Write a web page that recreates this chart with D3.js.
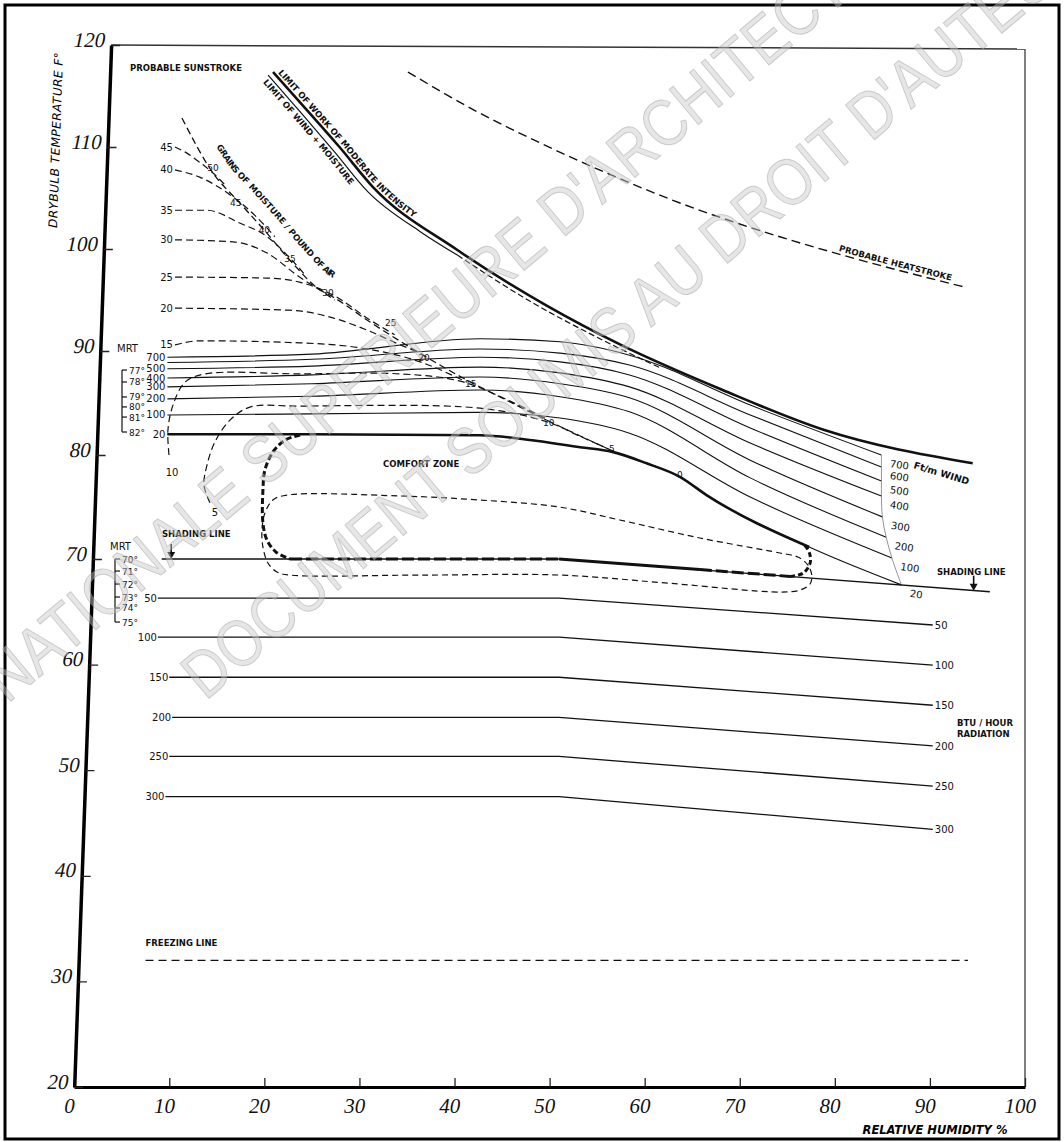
<!DOCTYPE html>
<html>
<head>
<meta charset="utf-8">
<script src="https://cdn.jsdelivr.net/npm/d3@7"></script>
<style>
body { margin: 0; background: #fff; }
svg { display: block; }
.lab { font-family: 'DejaVu Sans', sans-serif; font-weight: bold; font-size: 8.5px; fill: #111; }
.num { font-family: 'DejaVu Sans', sans-serif; font-size: 10px; fill: #111; }
.tick text { font-family: 'Liberation Serif', serif; font-style: italic; font-size: 21px; fill: #111; }
</style>
</head>
<body>
<div id="chart"></div>
<script>
const rhTicks = d3.range(0, 101, 10)
const tempTicks = d3.range(20, 121, 10)

// wind lines, ft/min : [relative humidity %, drybulb F]
const windSpeeds = [700, 600, 500, 400, 300, 200, 100, 20]
const windLeftLabels = ['700', '', '500', '400', '300', '200', '100', '20']
const wind700 = [[9.8, 89.4], [25, 89.7], [42.7, 91.2], [51.1, 90.9], [58.4, 89.6], [71.1, 84.8], [84.9, 80.0]]
const wind600 = [[9.8, 88.9], [25, 89.2], [42.7, 90.2], [51.1, 89.8], [58.4, 88.65], [71.1, 83.85], [84.9, 78.85]]
const wind500 = [[9.8, 88.3], [25, 88.55], [42.7, 89.4], [51.1, 88.95], [58.4, 87.7], [71.1, 82.6], [84.9, 77.5]]
const wind400 = [[9.8, 87.4], [25, 87.7], [42.7, 88.45], [51.1, 87.9], [58.4, 86.55], [71.1, 81.15], [84.9, 76.05]]
const wind300 = [[9.8, 86.55], [25, 86.85], [42.7, 87.5], [51.1, 86.85], [58.4, 85.5], [71.1, 79.5], [85.0, 74.05]]
const wind200 = [[9.8, 85.4], [25, 85.65], [42.7, 86.25], [51.1, 85.6], [58.4, 84.15], [71.1, 77.8], [85.4, 72.1]]
const wind100 = [[9.8, 83.85], [25, 83.95], [42.7, 84.1], [51.1, 83.55], [58.4, 82.1], [71.1, 75.95], [86.0, 70.1]]
const wind20 = [[9.8, 82.0], [25, 82.0], [42.7, 81.9], [47.9, 81.45], [53.2, 80.75], [56.6, 80.3], [60.2, 79.2], [63.7, 77.9], [66.5, 76.15], [77.3, 71.15], [87.0, 67.55]]
const windLines = [wind700, wind600, wind500, wind400, wind300, wind200, wind100, wind20]
const comfortTopEndRH = 77.3

// radiation lines, BTU/hour
const radiationLevels = [50, 100, 150, 200, 250, 300]
const radiationStartRH = [8.8, 8.8, 10.0, 10.3, 10.0, 9.6]
const radiationLeftT = [66.3, 62.6, 58.8, 55.0, 51.3, 47.5]
const radiationBendRH = 51
const radiationEndRH = 90.3
const radiationRightT = [63.75, 59.95, 56.15, 52.3, 48.5, 44.4]

const shadingLine = [[9.2, 70], [51, 70], [96.3, 66.9]]
const freezingLine = [[7.5, 32], [94, 32]]

const limitWork = [[20.9, 117.35], [24.5, 113.6], [27.9, 110.0], [31.4, 106.1], [40.3, 99.9], [49.6, 94.5], [57.5, 90.6], [68.2, 86.25], [78.9, 82.4], [94.5, 79.2]]
const limitWindMoisture = [[20.4, 117.05], [24.0, 113.2], [27.4, 109.5], [30.9, 105.6], [36.4, 101.7], [40.3, 99.4]]
const limitWindMoistureDashed = [[40.3, 99.4], [47.9, 94.9], [55.3, 91.2], [61.6, 88.4]]
const heatstrokeLine = [[35.1, 117.35], [42.1, 113.6], [49.0, 110.4], [56.0, 107.45], [62.9, 104.8], [74.2, 101.2], [80.8, 99.4], [93.5, 96.3]]

// grains of moisture / pound of air
const grainLevels = [45, 40, 35, 30, 25, 20, 15]
const grains45 = [[10.6, 110.0], [11.85, 109.4], [13.2, 108.5], [14.6, 107.45], [15.85, 106.3]]
const grains40 = [[10.6, 107.75], [13.2, 107.05], [16.7, 105.1], [19.0, 103.3], [21.1, 101.2]]
const grains35 = [[10.6, 103.8], [13.96, 103.8], [17.4, 102.55], [20.3, 101.2], [22.7, 99.1], [24.3, 97.45]]
const grains30 = [[10.6, 100.9], [16.7, 100.7], [20.3, 99.6], [23.7, 97.25], [25.8, 96.0], [27.4, 95.0]]
const grains25 = [[10.6, 97.25], [20.3, 97.15], [23.7, 96.75], [27.2, 95.5], [31.1, 93.05], [33.7, 91.6]]
const grains20 = [[10.6, 94.2], [22.7, 94.0], [27.2, 93.25], [30.8, 92.05], [34.3, 90.6], [36.15, 89.9]]
const grains15 = [[10.6, 90.6], [13.2, 91.0], [23.7, 90.8], [30.8, 90.2], [36.4, 88.95], [41.3, 87.0]]
const grainLines = [grains45, grains40, grains35, grains30, grains25, grains20, grains15]
const grains10 = [[9.97, 80.0], [9.86, 82.4], [10.39, 84.8], [11.65, 87.0], [13.75, 87.8], [23.7, 87.8], [34.3, 87.8], [40.6, 87.1], [45.8, 85.2], [49.8, 83.4]]
const grains5 = [[14.28, 75.4], [13.65, 77.1], [13.96, 79.0], [14.8, 81.25], [16.38, 83.35], [18.48, 84.6], [23.7, 84.7], [42.7, 84.5], [49.7, 83.2], [53.2, 81.8], [56.85, 80.3]]
const grainsDiagonal = [[11.33, 112.85], [14.6, 107.45], [17.43, 104.5], [20.27, 101.55], [22.69, 98.9], [25.84, 96.0], [27.21, 95.3], [31.1, 92.85], [36.15, 89.9], [41.3, 87.2], [45.83, 85.1], [49.7, 83.35], [53.17, 81.85], [56.85, 80.3]]
const diagonalLabels = [50, 45, 40, 35, 30, 25, 20, 15, 10, 5, 0]
const diagonalLabelRH = [14.6, 17.0, 20.0, 22.7, 26.7, 33.3, 36.8, 41.7, 49.9, 56.55, 63.7]
const diagonalLabelT = [108.0, 104.6, 101.9, 99.1, 95.7, 92.8, 89.33, 86.83, 83.08, 80.58, 78.08]

// comfort zone outlines
const comfortCornerLeft = [[23.76, 81.92], [22.18, 81.44], [20.9, 80.29], [20.06, 78.56], [19.85, 76.63], [19.85, 73.46], [20.27, 71.83], [21.22, 70.67], [22.69, 70.0]]
const comfortBottomDashed = [[22.69, 70], [51, 70]]
const comfortBottomSolid = [[51, 70], [65.8, 69.0]]
const comfortBottomDashedRight = [[65.8, 69.0], [75.3, 68.35]]
const comfortCornerRight = [[75.3, 68.35], [76.65, 68.65], [77.4, 69.6], [77.3, 70.67], [76.63, 71.54]]
const comfortOuter = [[34.26, 76.06], [22.37, 76.15], [20.9, 75.67], [20.06, 74.42], [19.75, 72.79], [19.85, 71.15], [20.38, 69.62], [21.33, 68.77], [22.69, 68.48], [36.8, 68.48], [50.98, 68.48], [62.6, 67.7], [74.22, 66.87], [76.32, 67.05], [77.37, 67.61], [77.58, 68.39], [77.16, 69.43], [76.11, 70.19], [74.22, 70.58], [65.8, 72.02], [57.39, 73.75], [50.98, 75.0], [42.67, 75.67]]

const mrtUpper = ['77°', '78°', '79°', '80°', '81°', '82°']
const mrtUpperT = [88.17, 87.02, 85.58, 84.62, 83.65, 82.21]
const mrtLower = ['70°', '71°', '72°', '73°', '74°', '75°']
const mrtLowerT = [70, 68.86, 67.63, 66.4, 65.36, 64.03]

const watermark = ["ECOLE NATIONALE SUPERIEURE D'ARCHITECTURE", "DOCUMENT SOUMIS AU DROIT D'AUTEUR"]

const width = 1064
const height = 1142

const svg = d3.select('#chart').append('svg')
	.attr('width', width)
	.attr('height', height)

const x = d3.scaleLinear().domain([0, 100]).range([74.2, 1025])
const y = d3.scaleLinear().domain([20, 70, 90, 120]).range([1087, 559, 351, 45])
const skew = -2.03
const axisTopX = x(0) + (y(20) - y(120)) * Math.tan(-skew * Math.PI / 180)

const smooth = d3.line().x(d => x(d[0])).y(d => y(d[1])).curve(d3.curveMonotoneX)
const straight = d3.line().x(d => x(d[0])).y(d => y(d[1]))
const free = d3.line().x(d => x(d[0])).y(d => y(d[1])).curve(d3.curveCatmullRom.alpha(0.5))

const draw = (data, gen, width, dash) => svg.append('path')
	.attr('d', gen(data))
	.attr('fill', 'none')
	.attr('stroke', '#111')
	.attr('stroke-width', width)
	.attr('stroke-dasharray', dash || null)

// outer frame
svg.append('rect')
	.attr('x', 5).attr('y', 5)
	.attr('width', width - 10).attr('height', height - 8)
	.attr('fill', 'none').attr('stroke', '#000').attr('stroke-width', 3)

// top and right border of the chart
svg.append('line')
	.attr('x1', axisTopX).attr('y1', y(120)).attr('x2', x(100)).attr('y2', y(120) + 4)
	.attr('stroke', '#333').attr('stroke-width', 1.5)
svg.append('line')
	.attr('x1', x(100)).attr('y1', y(120) + 4).attr('x2', x(100)).attr('y2', y(20))
	.attr('stroke', '#555').attr('stroke-width', 1.5)

// axes
const xAxis = d3.axisBottom(x).tickValues(rhTicks).tickSizeInner(-9).tickSizeOuter(0).tickPadding(11)
const gx = svg.append('g').attr('transform', `translate(0,${y(20)})`).call(xAxis)
gx.select('.domain').attr('stroke', '#000').attr('stroke-width', 3)
gx.selectAll('.tick line').attr('stroke', '#222').attr('stroke-width', 1.3)
gx.selectAll('.tick text').attr('dx', '-0.25em')

const yAxis = d3.axisLeft(y).tickValues(tempTicks).tickSizeInner(-9).tickSizeOuter(0).tickPadding(6)
const gy = svg.append('g')
	.attr('transform', `translate(${x(0)},${y(20)}) skewX(${skew}) translate(0,${-y(20)})`)
	.call(yAxis)
gy.select('.domain').attr('stroke', '#000').attr('stroke-width', 3.5)
gy.selectAll('.tick line').attr('stroke', '#222').attr('stroke-width', 1.3)
gy.selectAll('.tick text').attr('dy', '0.05em')

svg.append('text')
	.attr('transform', 'translate(60,140) rotate(-88)')
	.attr('text-anchor', 'middle')
	.style('font-family', "'DejaVu Sans', sans-serif").style('font-style', 'italic').style('font-size', '12px')
	.attr('letter-spacing', 0.5)
	.text('DRYBULB  TEMPERATURE  F°')
svg.append('text')
	.attr('x', 935).attr('y', 1134)
	.attr('text-anchor', 'middle')
	.style('font-family', "'DejaVu Sans', sans-serif").style('font-style', 'italic').style('font-weight', 'bold').style('font-size', '11.5px')
	.text('RELATIVE  HUMIDITY %')

// upper limits
draw(limitWork, smooth, 2.6).attr('id', 'limitWork')
draw(limitWindMoisture, smooth, 1.2).attr('id', 'limitWind')
draw(limitWindMoistureDashed, smooth, 1.2, '6,3')
draw(heatstrokeLine, smooth, 1.4, '9,5').attr('id', 'heatstroke')

svg.append('text').attr('class', 'lab').attr('dy', -3)
	.append('textPath').attr('href', '#limitWork').attr('startOffset', 4)
	.text('LIMIT  OF  WORK  OF  MODERATE  INTENSITY')
svg.append('text').attr('class', 'lab').attr('dy', 9)
	.append('textPath').attr('href', '#limitWind').attr('startOffset', 2)
	.text('LIMIT  OF  WIND + MOISTURE')
svg.append('text').attr('class', 'lab').attr('dy', -3)
	.append('textPath').attr('href', '#heatstroke').attr('startOffset', 468)
	.text('PROBABLE  HEATSTROKE')

svg.append('text').attr('class', 'lab').attr('x', 130).attr('y', 71).text('PROBABLE  SUNSTROKE')

// grains of moisture
draw(grainsDiagonal, smooth, 1.3, '7,4').attr('id', 'diagonal')
grainLines.forEach((g, i) => {
	draw(g, smooth, 1.2, '7,4')
	svg.append('text').attr('class', 'num')
		.attr('x', x(g[0][0]) - 2).attr('y', y(g[0][1]) + 3.5)
		.attr('text-anchor', 'end')
		.text(grainLevels[i])
})
draw(grains10, free, 1.2, '7,4')
draw(grains5, free, 1.2, '7,4')
svg.append('text').attr('class', 'num').attr('x', x(10.3)).attr('y', y(78.4) + 4).attr('text-anchor', 'middle').text('10')
svg.append('text').attr('class', 'num').attr('x', x(14.8)).attr('y', y(74.5) + 4).attr('text-anchor', 'middle').text('5')

svg.selectAll('.diagLabel')
	.data(diagonalLabels)
	.enter()
	.append('text')
	.attr('class', 'num')
	.attr('x', (d, i) => x(diagonalLabelRH[i]))
	.attr('y', (d, i) => y(diagonalLabelT[i]) + 3.5)
	.attr('text-anchor', 'middle')
	.style('font-size', '9px')
	.text(d => d)

svg.append('text').attr('class', 'lab').attr('dy', -17)
	.append('textPath').attr('href', '#diagonal').attr('startOffset', 42)
	.text('GRAINS  OF  MOISTURE / POUND  OF  AIR')

// wind lines
windLines.forEach((w, i) => {
	draw(w, smooth, 1.1)
	const first = w[0]
	const last = w[w.length - 1]
	svg.append('text').attr('class', 'num')
		.attr('x', x(first[0]) - 2).attr('y', y(first[1]) + 3.5)
		.attr('text-anchor', 'end')
		.text(windLeftLabels[i])
	svg.append('text').attr('class', 'num')
		.attr('x', x(last[0]) + 8).attr('y', y(last[1]) + 12)
		.attr('transform', `rotate(8,${x(last[0]) + 8},${y(last[1]) + 12})`)
		.text(windSpeeds[i])
})
draw(windLines.map(w => w[w.length - 1]), free, 0.8).attr('stroke', '#777')
draw(wind20.filter(d => d[0] <= comfortTopEndRH), smooth, 2.6)
svg.append('text').attr('class', 'lab')
	.attr('transform', 'translate(913,468) rotate(17)')
	.style('font-size', '9.5px')
	.text('Ft/m  WIND')

// comfort zone
draw(comfortCornerLeft, free, 3, '6,3')
draw(comfortBottomDashed, straight, 3, '12,4')
draw(comfortBottomSolid, straight, 3)
draw(comfortBottomDashedRight, straight, 3, '12,4')
draw(comfortCornerRight, free, 3, '5,3')
svg.append('path')
	.attr('d', d3.line().x(d => x(d[0])).y(d => y(d[1])).curve(d3.curveCatmullRomClosed.alpha(0.5))(comfortOuter))
	.attr('fill', 'none').attr('stroke', '#111').attr('stroke-width', 1.2).attr('stroke-dasharray', '6,4')
svg.append('text').attr('class', 'lab').attr('x', 383).attr('y', 467).text('COMFORT  ZONE')

// shading line
draw(shadingLine, straight, 1.3)
svg.append('text').attr('class', 'lab').attr('x', 162).attr('y', 537).text('SHADING  LINE')
svg.append('text').attr('class', 'lab').attr('x', 937).attr('y', 575).text('SHADING  LINE')
const arrow = (ax, ay) => {
	svg.append('line').attr('x1', ax).attr('y1', ay - 15).attr('x2', ax).attr('y2', ay - 4)
		.attr('stroke', '#111').attr('stroke-width', 1.6)
	svg.append('path').attr('d', `M${ax - 4},${ay - 7}L${ax + 4},${ay - 7}L${ax},${ay}Z`).attr('fill', '#111')
}
arrow(x(10.2), y(70))
arrow(x(94.6), y(67.0))

// radiation lines
radiationLevels.forEach((r, i) => {
	const pts = [[radiationStartRH[i], radiationLeftT[i]], [radiationBendRH, radiationLeftT[i]], [radiationEndRH, radiationRightT[i]]]
	draw(pts, straight, 1.3)
	svg.append('text').attr('class', 'num')
		.attr('x', x(radiationStartRH[i]) - 1).attr('y', y(radiationLeftT[i]) + 3.5)
		.attr('text-anchor', 'end').text(r)
	svg.append('text').attr('class', 'num')
		.attr('x', x(radiationEndRH) + 2).attr('y', y(radiationRightT[i]) + 4).text(r)
})
svg.append('text').attr('class', 'lab').attr('x', 957).attr('y', 726).text('BTU / HOUR')
svg.append('text').attr('class', 'lab').attr('x', 957).attr('y', 737).text('RADIATION')

// MRT brackets
const bracket = (bx, labels, temps) => {
	svg.append('line').attr('x1', bx).attr('x2', bx)
		.attr('y1', y(temps[0])).attr('y2', y(temps[temps.length - 1]))
		.attr('stroke', '#111').attr('stroke-width', 1.2)
	labels.forEach((l, i) => {
		svg.append('line').attr('x1', bx).attr('x2', bx + 5).attr('y1', y(temps[i])).attr('y2', y(temps[i]))
			.attr('stroke', '#111').attr('stroke-width', 1.2)
		svg.append('text').attr('class', 'num').style('font-size', '9px')
			.attr('x', bx + 7).attr('y', y(temps[i]) + 3.5).text(l)
	})
}
bracket(122, mrtUpper, mrtUpperT)
svg.append('text').attr('class', 'num').attr('x', 117).attr('y', 352).text('MRT')
bracket(115, mrtLower, mrtLowerT)
svg.append('text').attr('class', 'num').attr('x', 110).attr('y', 550).text('MRT')

// freezing line
draw(freezingLine, straight, 1.3, '8,5')
svg.append('text').attr('class', 'lab').attr('x', x(7.5)).attr('y', y(32) - 14).text('FREEZING  LINE')

// watermark
const wmPos = [[396, 378], [648, 330]]
const wmLen = [1435, 1155]
watermark.forEach((t, i) => {
	svg.append('text')
		.attr('transform', `translate(${wmPos[i][0]},${wmPos[i][1]}) rotate(-40)`)
		.attr('text-anchor', 'middle')
		.attr('textLength', wmLen[i])
		.attr('lengthAdjust', 'spacingAndGlyphs')
		.style('font-family', "'Liberation Sans', sans-serif")
		.style('font-size', '66px')
		.attr('fill', '#c8c8c8').attr('fill-opacity', 0.45)
		.attr('stroke', '#9c9c9c').attr('stroke-opacity', 0.45).attr('stroke-width', 1)
		.text(t)
})
</script>
</body>
</html>
